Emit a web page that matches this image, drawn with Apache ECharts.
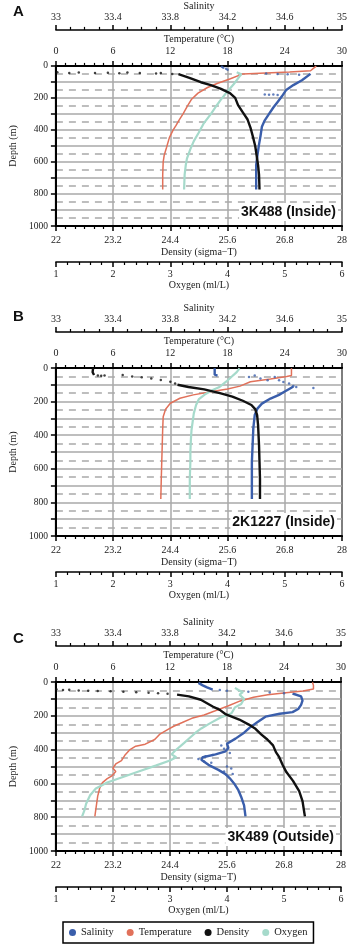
<!DOCTYPE html>
<html>
<head>
<meta charset="utf-8">
<script src="https://cdn.jsdelivr.net/npm/echarts@6/dist/echarts.min.js"></script>
<style>
html, body { margin: 0; padding: 0; background: #fff; }
#chart { width: 350px; height: 946px; }
</style>
</head>
<body>
<div id="chart"></div>
<script>
// profiles: [value, depth (m)] ; null breaks a line
// ---- A : 3K488 (Inside) ----
var salA = [[34.78,50],[34.77,62],[34.72,90],[34.66,120],[34.61,150],[34.58,190],[34.55,225],[34.52,260],[34.49,300],[34.46,340],[34.44,380],[34.43,440],[34.42,490],[34.41,550],[34.40,620],[34.40,690],[34.40,772]];
var salA_dots = [[34.16,6],[34.17,12],[34.19,18],[34.2,24],[34.47,48],[34.55,50],[34.62,52],[34.7,55],[34.46,178],[34.49,180],[34.52,179],[34.55,181]];
var tempA = [[27.3,2],[27.0,15],[26.7,30],[24.5,38],[22.0,44],[19.6,50],[18.3,80],[16.9,110],[15.9,135],[14.9,170],[14.2,210],[13.8,250],[13.35,298],[12.9,340],[12.6,372],[12.3,400],[11.9,448],[11.6,510],[11.35,560],[11.25,600],[11.2,680],[11.2,772]];
var densA = [[24.57,52],[24.8,75],[25.04,102],[25.25,120],[25.45,142],[25.65,170],[25.76,200],[25.82,245],[25.92,290],[26.02,335],[26.08,385],[26.13,440],[26.18,500],[26.21,560],[26.24,620],[26.26,680],[26.27,772]];
var densA_dots = [[22.03,40],[22.28,44],[22.48,41],[22.82,45],[23.09,43],[23.33,46],[23.5,42],[23.76,45],[24.1,47],[24.2,44],[24.44,50]];
var oxyA = [[4.16,40],[4.24,52],[4.21,65],[4.11,113],[3.99,163],[3.88,212],[3.80,252],[3.71,300],[3.58,361],[3.49,421],[3.41,470],[3.35,520],[3.29,579],[3.27,619],[3.25,679],[3.24,772]];

// ---- B : 2K1227 (Inside) ----
var salB = [[34.11,2],[34.11,40],[34.13,45],null,[34.66,110],[34.64,120],[34.6,140],[34.56,160],[34.5,182],[34.44,212],[34.41,240],[34.39,280],[34.38,360],[34.375,460],[34.37,560],[34.37,660],[34.37,780]];
var salB_dots = [[34.35,54],[34.39,44],[34.43,63],[34.48,73],[34.53,54],[34.56,73],[34.59,83],[34.63,93],[34.66,107],[34.68,113],[34.8,119]];
var tempB = [[24.7,2],[24.7,45],[24.2,50],[22.5,65],[20.4,82],[19.3,108],[18.0,125],[16.4,140],[14.4,160],[13.0,180],[12.0,210],[11.5,245],[11.25,290],[11.2,360],[11.15,460],[11.1,560],[11.05,660],[11.0,780]];
var densB = [[22.78,2],[22.77,25],[22.8,42],null,[24.55,100],[24.78,113],[25.11,127],[25.44,150],[25.7,170],[25.92,195],[26.1,220],[26.18,245],[26.22,280],[26.24,340],[26.26,460],[26.27,560],[26.28,660],[26.28,780]];
var densB_dots = [[22.88,45],[22.95,46],[23.02,44],[23.4,42],[23.6,50],[23.8,55],[24.0,62],[24.2,72],[24.4,82],[24.5,92]];
var oxyB = [[4.21,2],[4.16,25],[4.07,52],[3.98,80],[3.85,115],[3.74,131],[3.6,158],[3.5,185],[3.45,220],[3.41,270],[3.39,320],[3.37,370],[3.36,420],[3.35,500],[3.35,560],[3.34,660],[3.34,780]];

// ---- C : 3K489 (Outside) ----
var salC = [[34.0,5],[34.03,20],[34.06,32],[34.1,45],null,[34.66,68],[34.72,85],[34.73,110],[34.72,135],[34.7,160],[34.66,178],[34.57,188],[34.47,205],[34.41,240],[34.36,270],[34.32,300],[34.26,335],[34.2,365],[34.21,390],[34.19,410],[34.12,428],[34.03,445],[34.02,460],[34.07,490],[34.14,520],[34.19,545],[34.22,570],[34.25,600],[34.28,640],[34.3,680],[34.32,730],[34.33,795]];
var salC_dots = [[34.15,48],[34.2,52],[34.35,58],[34.5,62],[34.6,66],[34.16,375],[34.18,395],[34.22,420],[34.1,432],[34.05,440],[34.0,455],[34.04,470],[34.09,478],[34.2,500],[34.23,512],[34.18,530],[34.24,545]];
var tempC = [[27.0,2],[27.1,20],[27.1,42],[26.0,53],[24.2,63],[22.3,75],[20.8,90],[19.4,112],[18.1,142],[16.7,172],[15.6,195],[14.3,215],[13.3,240],[12.4,262],[11.8,280],[10.9,310],[10.4,340],[9.4,368],[8.4,380],[7.8,400],[7.3,430],[6.9,465],[6.3,485],[6.0,510],[6.3,530],[5.9,555],[5.4,572],[4.9,595],[4.6,630],[4.4,675],[4.25,735],[4.1,795]];
var densC = [[24.55,75],[24.8,85],[25.05,105],[25.3,145],[25.45,165],[25.58,192],[25.86,222],[26.06,252],[26.2,277],[26.32,310],[26.45,340],[26.57,375],[26.63,415],[26.7,445],[26.77,490],[26.85,533],[26.99,585],[27.12,645],[27.19,705],[27.24,795]];
var densC_dots = [[22.01,43],[22.15,47],[22.28,46],[22.48,50],[22.68,52],[22.88,53],[23.15,55],[23.42,57],[23.69,60],[23.95,63],[24.15,66],[24.35,69]];
var oxyC = [[4.14,35],[4.2,47],[4.28,60],[4.22,75],[4.3,100],[4.25,130],[4.14,150],[4.08,185],[3.88,212],[3.7,245],[3.55,275],[3.45,300],[3.35,330],[3.25,360],[3.08,410],[3.03,428],[3.11,445],[3.0,465],[2.75,495],[2.45,530],[2.15,565],[1.9,595],[1.7,630],[1.6,670],[1.53,720],[1.5,760],[1.46,795]];

var stations = ['3K488 (Inside)', '2K1227 (Inside)', '3K489 (Outside)'];
var panelLetters = ['A', 'B', 'C'];
var varNames = ['Salinity', 'Temperature', 'Density', 'Oxygen'];
var depthTicks = [0, 200, 400, 600, 800, 1000];

var lines = [[salA, tempA, densA, oxyA], [salB, tempB, densB, oxyB], [salC, tempC, densC, oxyC]];
var dots = [[salA_dots, [], densA_dots, []], [salB_dots, [], densB_dots, []], [salC_dots, [], densC_dots, []]];

var dom = document.getElementById('chart');
var myChart = echarts.init(dom);

var SERIF = '"Liberation Serif", "DejaVu Serif", serif';
var TXT = '#1a1a1a';
var colors = ['#3a5eab', '#e1715a', '#111111', '#a6dacb'];
var widths = [2.4, 1.5, 2.4, 2.2];

// plot boxes (px)
var boxes = [
    {left: 46, right: 7, top: 58, height: 168},
    {left: 43, right: 8, top: 368, height: 168},
    {left: 42, right: 9, top: 682, height: 169}
];

// salinity and density axes run from 0 so ticks start on the first label
var shift = [33, 0, 22, 0];
// axis index inside a panel: temp 0, sal 1, dens 2, oxy 3
var axisSlot = [1, 0, 2, 3];

function fmt(base) {
    return function (v) { return String(+(base + v).toFixed(1)); };
}

var labelStyle = {fontFamily: SERIF, fontSize: 10, color: TXT};
var nameStyle = {fontFamily: SERIF, fontSize: 10, color: TXT};

var grids = [], xAxes = [], yAxes = [], series = [], graphics = [];

boxes.forEach(function (b, g) {
    grids.push({left: b.left, right: b.right, top: b.top, height: b.height,
        show: true, borderColor: '#000', borderWidth: 2, backgroundColor: 'transparent'});

    // temperature (top of plot)
    xAxes.push({
        gridIndex: g, type: 'value', position: 'top', min: 0, max: 30, interval: 6,
        name: 'Temperature (°C)', nameLocation: 'middle', nameGap: 22, nameTextStyle: nameStyle,
        axisLine: {show: true, onZero: false, lineStyle: {color: '#000', width: 2}},
        axisTick: {show: true, length: 5, lineStyle: {color: '#000', width: 1.5}},
        minorTick: {show: true, splitNumber: 6, length: 3, lineStyle: {color: '#000', width: 1.2}},
        axisLabel: Object.assign({margin: 10}, labelStyle),
        splitLine: {show: true, lineStyle: {color: '#a9a9a9', width: 1.5}}
    });
    // salinity (detached, above)
    xAxes.push({
        gridIndex: g, type: 'value', position: 'top', offset: 36, min: 0, max: 2, interval: 0.4,
        name: 'Salinity', nameLocation: 'middle', nameGap: 14, nameTextStyle: nameStyle,
        axisLine: {show: true, onZero: false, lineStyle: {color: '#000', width: 1.5}},
        axisTick: {show: true, length: 5, lineStyle: {color: '#000', width: 1.5}},
        minorTick: {show: true, splitNumber: 4, length: 3, lineStyle: {color: '#000', width: 1.2}},
        axisLabel: Object.assign({margin: 8, formatter: fmt(33)}, labelStyle),
        splitLine: {show: false}
    });
    // density (bottom of plot)
    xAxes.push({
        gridIndex: g, type: 'value', position: 'bottom', min: 0, max: 6, interval: 1.2,
        name: 'Density (sigma\u2212T)', nameLocation: 'middle', nameGap: 21, nameTextStyle: nameStyle,
        axisLine: {show: true, onZero: false, lineStyle: {color: '#000', width: 2}},
        axisTick: {show: true, length: 5, lineStyle: {color: '#000', width: 1.5}},
        minorTick: {show: true, splitNumber: 6, length: 3, lineStyle: {color: '#000', width: 1.2}},
        axisLabel: Object.assign({margin: 9, formatter: fmt(22)}, labelStyle),
        splitLine: {show: false}
    });
    // oxygen (detached, below)
    xAxes.push({
        gridIndex: g, type: 'value', position: 'bottom', offset: 36, min: 1, max: 6, interval: 1,
        name: 'Oxygen (ml/L)', nameLocation: 'middle', nameGap: 15, nameTextStyle: nameStyle,
        axisLine: {show: true, onZero: false, lineStyle: {color: '#000', width: 1.5}},
        axisTick: {show: true, length: 5, lineStyle: {color: '#000', width: 1.5}},
        minorTick: {show: true, splitNumber: 5, length: 3, lineStyle: {color: '#000', width: 1.2}},
        axisLabel: Object.assign({margin: 7}, labelStyle),
        splitLine: {show: false}
    });

    yAxes.push({
        gridIndex: g, type: 'value', inverse: true, min: 0, max: 1000, interval: 100,
        name: 'Depth (m)', nameLocation: 'middle', nameGap: 34, nameRotate: 90, nameTextStyle: nameStyle,
        axisLine: {show: true, onZero: false, lineStyle: {color: '#000', width: 2}},
        axisTick: {show: true, length: 5, lineStyle: {color: '#000', width: 1.5}},
        minorTick: {show: false, splitNumber: 2},
        axisLabel: Object.assign({margin: 8, formatter: function (v) {
            return depthTicks.indexOf(v) >= 0 ? String(v) : '';
        }}, labelStyle, {fontSize: 9.5}),
        splitLine: {show: true, lineStyle: {color: '#a9a9a9', width: 1.5}},
        minorSplitLine: {show: true, lineStyle: {color: '#a9a9a9', width: 1.5, type: [7, 6]}}
    });

    varNames.forEach(function (name, k) {
        var xi = g * 4 + axisSlot[k];
        var lineData = lines[g][k].map(function (p) {
            return p ? [p[0] - shift[k], p[1]] : ['-', '-'];
        });
        series.push({
            name: name, type: 'line', xAxisIndex: xi, yAxisIndex: g,
            data: lineData, showSymbol: false, symbol: 'none', connectNulls: false,
            lineStyle: {color: colors[k], width: widths[k]},
            itemStyle: {color: colors[k]},
            z: k === 2 ? 4 : 3, animation: false, silent: true
        });
        if (dots[g][k].length) {
            series.push({
                name: name, type: 'scatter', xAxisIndex: xi, yAxisIndex: g,
                data: dots[g][k].map(function (p) { return [p[0] - shift[k], p[1]]; }),
                symbolSize: 2.5, itemStyle: {color: colors[k]},
                z: 3, animation: false, silent: true
            });
        }
    });

    // station label with white box
    graphics.push({
        type: 'text', x: 350 - b.right - 5, y: b.top + b.height - 14, z: 50,
        style: {text: stations[g], font: 'bold 14px "Liberation Sans", Arial, sans-serif',
            fill: '#111', align: 'right', verticalAlign: 'middle',
            backgroundColor: '#fff', padding: [2, 2]}
    });
});

// panel letters
[12, 317, 639].forEach(function (y, g) {
    graphics.push({
        type: 'text', x: 13, y: y, z: 50,
        style: {text: panelLetters[g], font: 'bold 15px "Liberation Sans", Arial, sans-serif',
            fill: '#111', align: 'left', verticalAlign: 'middle'}
    });
});

myChart.setOption({
    animation: false,
    backgroundColor: '#fff',
    grid: grids,
    xAxis: xAxes,
    yAxis: yAxes,
    legend: {
        left: 63, top: 922, data: varNames,
        icon: 'circle', itemWidth: 7, itemHeight: 7, itemGap: 13,
        padding: [5, 6], borderColor: '#000', borderWidth: 1.5,
        textStyle: {fontFamily: SERIF, fontSize: 10.5, color: TXT}
    },
    graphic: graphics,
    series: series
});

window.addEventListener('resize', function () {
    myChart.resize();
});
</script>
</body>
</html>
